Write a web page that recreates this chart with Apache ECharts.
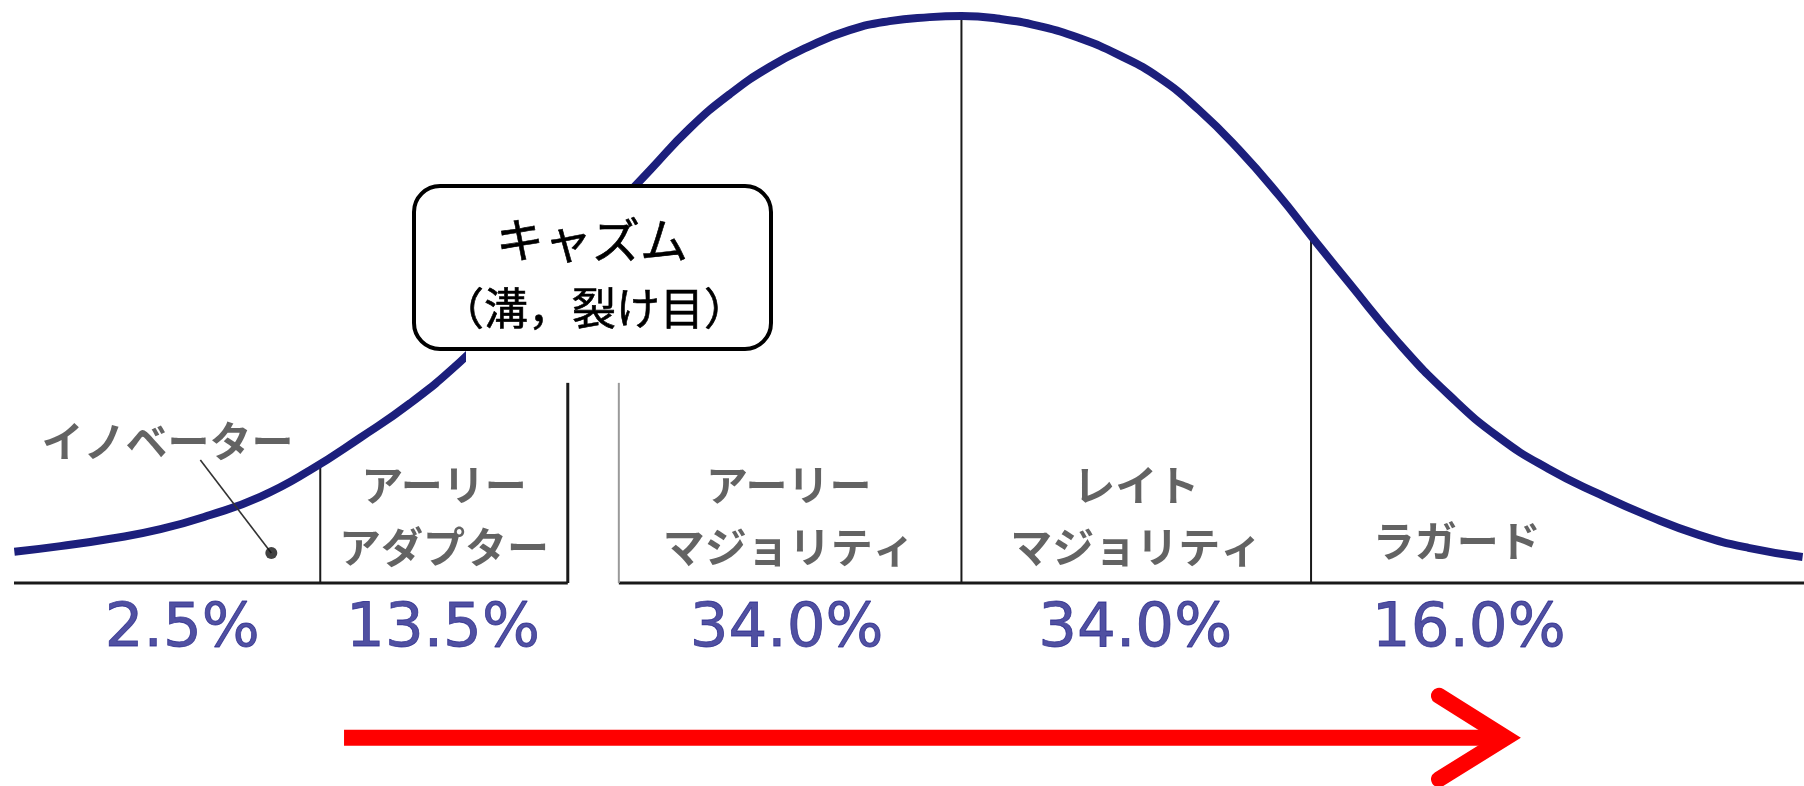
<!DOCTYPE html>
<html><head><meta charset="utf-8">
<script src="https://cdn.jsdelivr.net/npm/echarts@6/dist/echarts.min.js"></script>
<style>html,body{margin:0;padding:0;background:#fff}#c{width:1804px;height:786px}</style>
</head><body><div id="c"></div>
<script>
// Adopter categories and their share of the market (%)
const categories = ['イノベーター', 'アーリー\nアダプター', 'アーリー\nマジョリティ', 'レイト\nマジョリティ', 'ラガード'];
const shares = [2.5, 13.5, 34.0, 34.0, 16.0];

// Diffusion curve (x in standard deviations from the mean, y relative height)
const curveX = [-2.709, -2.577, -2.434, -2.291, -2.149, -2.006, -1.863, -1.720, -1.577, -1.434, -1.291, -1.149, -1.006, -0.891, -0.777, -0.663, -0.549, -0.434, -0.320, -0.206, -0.091, 0.000,
                0.109, 0.223, 0.337, 0.451, 0.566, 0.680, 0.794, 0.909, 1.003, 1.109, 1.251, 1.394, 1.537, 1.680, 1.823, 1.966, 2.109, 2.251, 2.406];
const curveY = [0.055, 0.065, 0.078, 0.095, 0.120, 0.152, 0.199, 0.256, 0.317, 0.390, 0.476, 0.564, 0.653, 0.728, 0.802, 0.862, 0.910, 0.947, 0.975, 0.991, 0.998, 1.000,
                0.995, 0.982, 0.961, 0.931, 0.891, 0.834, 0.764, 0.683, 0.610, 0.529, 0.423, 0.332, 0.257, 0.201, 0.157, 0.118, 0.085, 0.062, 0.046];

// Segment boundaries (x) and how high each boundary line reaches
const boundaryX = [-1.834, -1.126, -0.980, 0.000, 1.000];
const boundaryTop = [0.208, 0.353, 0.353, 1.000, 0.605];
// Baseline pieces (gap = the chasm)
const baselineStart = [-2.71, -0.980];
const baselineEnd = [-1.126, 2.41];

// Layout of labels (data units)
const catLabelX = [-2.271, -1.480, -0.494, 0.500, 1.417];
const catLabelY = [0.250, 0.118, 0.118, 0.118, 0.074];
const pctLabelX = [-2.229, -1.483, -0.500, 0.497, 1.451];
const pctLabelY = -0.083;
// Innovator leader line
const leaderX = [-2.177, -1.974];
const leaderY = [0.217, 0.053];
// Time arrow
const arrowShaftX = [-1.766, 1.546];
const arrowHeadX = [1.366, 1.557, 1.366];
const arrowY = -0.273;
const arrowHeadY = [-0.199, -0.273, -0.346];

const chart = echarts.init(document.getElementById('c'));
const series = [];

// structure lines
baselineStart.forEach((s, i) => {
  series.push({ type: 'line', data: [[s, 0], [baselineEnd[i], 0]], symbol: 'none', silent: true, clip: false, z: 2,
    lineStyle: { color: '#1a1a1a', width: 3 } });
});
boundaryX.forEach((x, i) => {
  const light = i === 2;
  series.push({ type: 'line', data: [[x, 0], [x, boundaryTop[i]]], symbol: 'none', silent: true, clip: false, z: 2,
    lineStyle: { color: light ? '#9a9a9a' : '#1a1a1a', width: light ? 2 : (i === 1 ? 3 : 2) } });
});

// curve
series.push({ type: 'line', data: curveX.map((x, i) => [x, curveY[i]]), smooth: 0.5, symbol: 'none', silent: true, clip: false, z: 3,
  lineStyle: { color: '#1c1f7c', width: 8 } });

// leader line + dot
series.push({ type: 'line', data: leaderX.map((x, i) => [x, leaderY[i]]), symbol: 'none', silent: true, z: 4,
  lineStyle: { color: '#333', width: 1.6 } });
series.push({ type: 'scatter', data: [[leaderX[1], leaderY[1]]], symbolSize: 12, silent: true, z: 5, itemStyle: { color: '#111' } });

// category labels
series.push({ type: 'scatter', silent: true, symbolSize: 1, z: 6, itemStyle: { color: 'rgba(0,0,0,0)' },
  data: catLabelX.map((x, i) => ({ value: [x, catLabelY[i]], name: categories[i] })),
  label: { show: true, position: 'inside', formatter: p => p.name, fontSize: 42, lineHeight: 62,
    fontFamily: '"Noto Sans CJK JP"', fontWeight: 'bold', color: '#3c3c3c', align: 'center', verticalAlign: 'middle' } });

// percentage labels
series.push({ type: 'scatter', silent: true, symbolSize: 1, z: 6, itemStyle: { color: 'rgba(0,0,0,0)' },
  data: pctLabelX.map((x, i) => ({ value: [x, pctLabelY], name: shares[i].toFixed(1) + '%' })),
  label: { show: true, position: 'inside', formatter: p => p.name, fontSize: 61,
    fontFamily: '"DejaVu Sans"', color: '#24248a', textBorderColor: '#24248a', textBorderWidth: 0.8,
    align: 'center', verticalAlign: 'middle' } });

// arrow
series.push({ type: 'line', data: arrowShaftX.map(x => [x, arrowY]), symbol: 'none', silent: true, clip: false, z: 4,
  lineStyle: { color: '#ff0000', width: 16, cap: 'butt' } });
series.push({ type: 'line', data: arrowHeadX.map((x, i) => [x, arrowHeadY[i]]), symbol: 'none', silent: true, clip: false, z: 4,
  lineStyle: { color: '#ff0000', width: 16, cap: 'round', join: 'miter' } });

chart.setOption({
  animation: false,
  backgroundColor: '#ffffff',
  grid: { left: 14, right: 0, top: 16, bottom: 0 },
  xAxis: { type: 'value', min: -2.71, max: 2.41, show: false },
  yAxis: { type: 'value', min: -0.358, max: 1, show: false },
  series: series,
  graphic: [
    { type: 'rect', z: 100, shape: { x: 466, y: 338, width: 240, height: 43, r: [0, 0, 0, 14] }, style: { fill: '#ffffff' } },
    { type: 'rect', z: 101, shape: { x: 414, y: 186, width: 357, height: 163, r: 26 }, style: { fill: '#ffffff', stroke: '#000000', lineWidth: 4 } },
    { type: 'text', z: 102, x: 592, y: 240, style: { text: 'キャズム', fontSize: 48, fontFamily: '"Noto Sans CJK JP"', fill: '#000', stroke: '#000', lineWidth: 0.6, align: 'center', verticalAlign: 'middle', textAlign: 'center', textVerticalAlign: 'middle' } },
    { type: 'text', z: 102, x: 594, y: 308, style: { text: '（溝，裂け目）', fontSize: 44, fontFamily: '"Noto Sans CJK JP"', fill: '#000', stroke: '#000', lineWidth: 0.6, align: 'center', verticalAlign: 'middle', textAlign: 'center', textVerticalAlign: 'middle' } }
  ]
});
</script></body></html>
